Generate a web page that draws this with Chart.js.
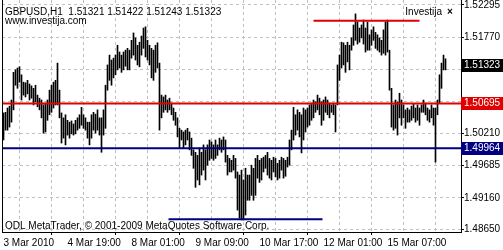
<!DOCTYPE html>
<html>
<head>
<meta charset="utf-8">
<script src="https://cdn.jsdelivr.net/npm/chart.js@4.4.0/dist/chart.umd.min.js"></script>
<style>
    html, body { margin: 0; padding: 0; background: #fff; }
    #wrap { width: 503px; height: 250px; }
</style>
</head>
<body>
<div id="wrap"><canvas id="chart" width="503" height="250"></canvas></div>
<script>
// GBPUSD H1 bars, high and low of each hour (left to right)
const highs = [
    1.5054, 1.5055, 1.5062, 1.5065, 1.5075, 1.5120, 1.5124, 1.5127, 1.5129, 1.5116,
    1.5104, 1.5103, 1.5107, 1.5101, 1.5098, 1.5094, 1.5099, 1.5083, 1.5078, 1.5075,
    1.5067, 1.5070, 1.5075, 1.5091, 1.5099, 1.5104, 1.5107, 1.5135, 1.5091, 1.5054,
    1.5046, 1.5051, 1.5042, 1.5039, 1.5041, 1.5036, 1.5042, 1.5046, 1.5051, 1.5063,
    1.5051, 1.5046, 1.5039, 1.5039, 1.5051, 1.5055, 1.5052, 1.5059, 1.5046, 1.5046,
    1.5059, 1.5099, 1.5132, 1.5148, 1.5140, 1.5143, 1.5148, 1.5164, 1.5153, 1.5148,
    1.5153, 1.5156, 1.5159, 1.5156, 1.5172, 1.5184, 1.5176, 1.5164, 1.5169, 1.5179,
    1.5192, 1.5194, 1.5172, 1.5164, 1.5159, 1.5156, 1.5164, 1.5168, 1.5135, 1.5083,
    1.5080, 1.5083, 1.5075, 1.5078, 1.5070, 1.5062, 1.5055, 1.5046, 1.5029, 1.5026,
    1.5023, 1.5026, 1.5029, 1.5023, 1.5013, 1.4994, 1.4990, 1.4985, 1.4997, 1.4990,
    1.5002, 1.4994, 1.5002, 1.5010, 1.5007, 1.5002, 1.5010, 1.5002, 1.5013, 1.5010,
    1.5015, 1.5010, 1.4985, 1.4980, 1.4977, 1.4985, 1.4980, 1.4958, 1.4953, 1.4961,
    1.4945, 1.4964, 1.4953, 1.4953, 1.4969, 1.4964, 1.4980, 1.4985, 1.4977, 1.4980,
    1.4982, 1.4985, 1.4990, 1.4980, 1.4977, 1.4982, 1.4980, 1.4972, 1.4977, 1.4982,
    1.4980, 1.4977, 1.4982, 1.5010, 1.5026, 1.5063, 1.5051, 1.5059, 1.5055, 1.5051,
    1.5062, 1.5059, 1.5062, 1.5067, 1.5070, 1.5075, 1.5072, 1.5083, 1.5078, 1.5072,
    1.5075, 1.5080, 1.5075, 1.5070, 1.5067, 1.5070, 1.5067, 1.5132, 1.5148, 1.5169,
    1.5168, 1.5164, 1.5169, 1.5164, 1.5176, 1.5197, 1.5215, 1.5202, 1.5192, 1.5197,
    1.5205, 1.5192, 1.5202, 1.5181, 1.5189, 1.5194, 1.5185, 1.5181, 1.5176, 1.5172,
    1.5189, 1.5202, 1.5205, 1.5156, 1.5094, 1.5067, 1.5075, 1.5072, 1.5086, 1.5075,
    1.5067, 1.5059, 1.5062, 1.5059, 1.5065, 1.5068, 1.5062, 1.5067, 1.5062, 1.5067,
    1.5075, 1.5070, 1.5062, 1.5059, 1.5067, 1.5062, 1.5062, 1.5075, 1.5116, 1.5135,
    1.5148, 1.5142
];
const lows = [
    1.5010, 1.5026, 1.5026, 1.5031, 1.5039, 1.5059, 1.5099, 1.5094, 1.5104, 1.5075,
    1.5083, 1.5080, 1.5085, 1.5075, 1.5078, 1.5067, 1.5072, 1.5064, 1.5059, 1.5046,
    1.5021, 1.5023, 1.5042, 1.5051, 1.5055, 1.5062, 1.5067, 1.5067, 1.5046, 1.5005,
    1.5013, 1.5002, 1.5018, 1.5013, 1.5020, 1.5018, 1.5020, 1.5026, 1.5029, 1.5034,
    1.5029, 1.5026, 1.5013, 1.5002, 1.5013, 1.5026, 1.5021, 1.5026, 1.5018, 1.4990,
    1.5018, 1.5029, 1.5091, 1.5107, 1.5099, 1.5111, 1.5116, 1.5124, 1.5127, 1.5120,
    1.5124, 1.5130, 1.5124, 1.5124, 1.5143, 1.5148, 1.5140, 1.5132, 1.5129, 1.5148,
    1.5159, 1.5145, 1.5140, 1.5132, 1.5111, 1.5107, 1.5120, 1.5127, 1.5026, 1.5046,
    1.5055, 1.5059, 1.5055, 1.5059, 1.5051, 1.5042, 1.5034, 1.5015, 1.4997, 1.5010,
    1.4997, 1.5002, 1.5010, 1.4994, 1.4985, 1.4964, 1.4933, 1.4945, 1.4937, 1.4953,
    1.4961, 1.4945, 1.4969, 1.4977, 1.4980, 1.4977, 1.4980, 1.4985, 1.4994, 1.4990,
    1.4994, 1.4974, 1.4953, 1.4958, 1.4958, 1.4961, 1.4948, 1.4896, 1.4883, 1.4880,
    1.4880, 1.4888, 1.4912, 1.4912, 1.4920, 1.4912, 1.4920, 1.4948, 1.4941, 1.4945,
    1.4958, 1.4964, 1.4953, 1.4948, 1.4945, 1.4958, 1.4950, 1.4945, 1.4948, 1.4961,
    1.4948, 1.4951, 1.4966, 1.4969, 1.4994, 1.5010, 1.5018, 1.5026, 1.5015, 1.4989,
    1.5010, 1.5023, 1.5031, 1.5034, 1.5042, 1.5046, 1.5055, 1.5059, 1.5051, 1.5034,
    1.5042, 1.5055, 1.5051, 1.5046, 1.5055, 1.5051, 1.5023, 1.5067, 1.5107, 1.5127,
    1.5132, 1.5120, 1.5137, 1.5124, 1.5156, 1.5164, 1.5172, 1.5166, 1.5169, 1.5176,
    1.5166, 1.5153, 1.5156, 1.5156, 1.5164, 1.5172, 1.5159, 1.5156, 1.5153, 1.5148,
    1.5151, 1.5148, 1.5153, 1.5091, 1.5031, 1.5026, 1.5029, 1.5018, 1.5046, 1.5034,
    1.5046, 1.5029, 1.5039, 1.5039, 1.5042, 1.5046, 1.5039, 1.5042, 1.5034, 1.5055,
    1.5055, 1.5051, 1.5042, 1.5039, 1.5046, 1.5034, 1.4974, 1.5051, 1.5070, 1.5094,
    1.5124, 1.5124
];

// time axis: labelled bars and their text, grid every 16 bars
const labelBars = [0, 32, 64, 96, 128, 160, 192];
const labelTexts = ['3 Mar 2010', '4 Mar 19:00', '8 Mar 01:00', '9 Mar 09:00', '10 Mar 17:00', '12 Mar 01:00', '15 Mar 07:00'];
const gridBars = [0, 16, 32, 48, 64, 80, 96, 112, 128, 144, 160, 176, 192, 208, 224];

// price axis
const priceTicks = [1.52295, 1.51770, 1.51245, 1.50720, 1.50210, 1.49685, 1.49160, 1.48650];
const coveredTicks = [1.51245, 1.50720];
const priceMin = 1.48604;
const priceMax = 1.52376;

// header
const symbol = 'GBPUSD,H1';
const lastBarOHLC = ['1.51321', '1.51422', '1.51243', '1.51323'];

// horizontal levels: price, first bar, last bar
const lastPrice = 1.51323;
const resistance = 1.50695;
const support = 1.49964;
const topLevel = [1.5204, 155, 208];
const bottomLevel = [1.4881, 82.5, 159.5];

const FONT = '"Liberation Sans", Arial, sans-serif';
Chart.defaults.font.family = FONT;
Chart.defaults.font.size = 10;
Chart.defaults.color = '#000';

const barData = highs.map((h, i) => ({ x: i, y: [lows[i], h] }));

function levelLine(price, from, to, color) {
    return {
        type: 'line',
        data: [{ x: from, y: price }, { x: to, y: price }],
        borderColor: color,
        borderWidth: 2,
        pointRadius: 0,
        order: 0
    };
}

// Frame, price boxes and the texts MT4 writes on the chart
const overlay = {
    id: 'overlay',
    afterDraw(chart) {
        const { ctx, chartArea, scales } = chart;
        const w = chart.width;
        ctx.save();

        ctx.fillStyle = '#000';
        ctx.fillRect(chartArea.left, chartArea.top, 1, chartArea.bottom - chartArea.top + 1);

        const boxes = [
            { value: lastPrice, bg: '#000000' },
            { value: resistance, bg: '#e00000' },
            { value: support, bg: '#000080' }
        ];
        ctx.font = '10px ' + FONT;
        ctx.textBaseline = 'middle';
        boxes.forEach(b => {
            const py = scales.y.getPixelForValue(b.value);
            ctx.fillStyle = b.bg;
            ctx.fillRect(chartArea.right, Math.round(py) - 6, w - chartArea.right, 13);
            ctx.fillStyle = '#fff';
            ctx.fillText(b.value.toFixed(5), chartArea.right + 3, Math.round(py) + 0.5);
        });

        ctx.fillStyle = '#000';
        ctx.textBaseline = 'alphabetic';
        ctx.fillText(symbol + '  ' + lastBarOHLC.join(' '), 5, 15);
        ctx.fillText('www.investija.com', 5, 24);
        ctx.fillText('ODL MetaTrader, \u00a9 2001-2009 MetaQuotes Software Corp.', 5, 229);
        ctx.textAlign = 'right';
        ctx.fillText('Investija', 442, 15);
        ctx.font = 'bold 10px ' + FONT;
        ctx.textAlign = 'left';
        ctx.fillText('\u00d7', 447, 15);
        ctx.restore();
    }
};

const ctx = document.getElementById('chart').getContext('2d');
new Chart(ctx, {
    type: 'bar',
    data: {
        datasets: [
            levelLine(resistance, -0.75, 228.75, '#e00000'),
            levelLine(support, -0.75, 228.75, '#000080'),
            levelLine(topLevel[0], topLevel[1], topLevel[2], '#e00000'),
            levelLine(bottomLevel[0], bottomLevel[1], bottomLevel[2], '#000080'),
            {
                type: 'bar',
                data: barData,
                backgroundColor: '#000',
                borderWidth: 0,
                barThickness: 1,
                order: 1
            }
        ]
    },
    options: {
        responsive: false,
        animation: false,
        devicePixelRatio: 1,
        layout: { padding: { left: 2, top: 0, right: 0, bottom: 0 } },
        plugins: {
            legend: { display: false },
            tooltip: { enabled: false }
        },
        scales: {
            x: {
                type: 'linear',
                min: -0.75,
                max: 228.75,
                offset: false,
                afterBuildTicks: scale => { scale.ticks = gridBars.map(v => ({ value: v })); },
                afterFit: scale => {
                    scale.height = 18;
                    scale.paddingLeft = 0;
                    scale.paddingRight = 0;
                },
                grid: {
                    color: '#c0c0c0',
                    tickColor: c => labelBars.includes(c.tick && c.tick.value) ? '#000' : 'rgba(0,0,0,0)',
                    tickLength: 3,
                    tickBorderDash: []
                },
                border: { color: '#000', dash: [3, 3] },
                ticks: {
                    autoSkip: false,
                    maxRotation: 0,
                    minRotation: 0,
                    align: 'start',
                    padding: 2,
                    callback: v => {
                        const k = labelBars.indexOf(v);
                        return k >= 0 ? labelTexts[k] : '';
                    }
                }
            },
            y: {
                position: 'right',
                min: priceMin,
                max: priceMax,
                afterBuildTicks: scale => { scale.ticks = priceTicks.map(v => ({ value: v })); },
                afterFit: scale => {
                    scale.width = 42;
                    scale.paddingTop = 0;
                    scale.paddingBottom = 0;
                },
                grid: {
                    color: '#c0c0c0',
                    tickColor: '#000',
                    tickLength: 3,
                    tickBorderDash: []
                },
                border: { color: '#000', dash: [3, 3] },
                ticks: {
                    padding: 0,
                    callback: v => coveredTicks.includes(v) ? '' : v.toFixed(5)
                }
            }
        }
    },
    plugins: [overlay]
});
</script>
</body>
</html>
